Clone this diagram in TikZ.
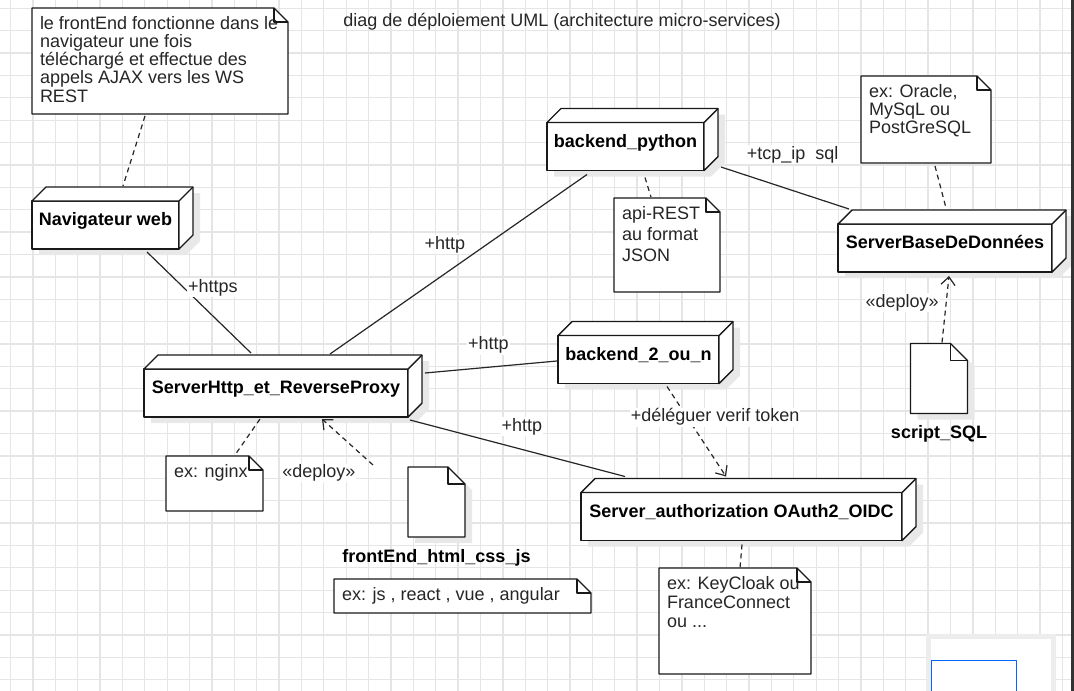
\documentclass[tikz,border=0pt]{standalone}
\usepackage{fontspec}
\setmainfont{Liberation Sans}
\usetikzlibrary{arrows.meta, positioning, calc, backgrounds}
\def\diagfont{\fontsize{18}{18.5}\selectfont}
\newcommand{\notetext}[3]{\parbox[t][#2][t]{#1}{\hrule height0pt width\hsize #3}}

\begin{document}
\begin{tikzpicture}[x=1pt, y=-1pt, font=\diagfont, text=black!85, line join=round]
    \tikzstyle{gridline}=[draw=black!10, line width=1.3pt]
    \tikzstyle{device}=[rectangle, draw=black!90, fill=white, line width=1.4pt, outer sep=0pt, inner xsep=0pt, inner ysep=9pt, text height=15.5pt, text depth=14.5pt, text=black, font=\diagfont\bfseries]
    \tikzstyle{devshadow}=[fill=black!9, shift={(7,6)}]
    \tikzstyle{note}=[rectangle, anchor=north west, inner sep=8pt, outer sep=0pt]
    \tikzstyle{artifact}=[rectangle, minimum width=57pt, minimum height=70pt, inner sep=0pt, outer sep=0pt]
    \tikzstyle{outline}=[draw=black!90, line width=1.4pt]
    \tikzstyle{link}=[draw=black!85, line width=1.2pt]
    \tikzstyle{dep}=[link, dash pattern=on 5pt off 4pt]
    \tikzstyle{deploy}=[dep, -{Straight Barb[length=8pt, width=14pt]}]
    \tikzstyle{elabel}=[fill=white, inner sep=1pt]

    \useasboundingbox (0,0) rectangle (1074,691);
    \begin{pgfonlayer}{background}
        \fill[white] (0,0) rectangle (1074,691);
        \foreach \i in {0,...,47} \draw[gridline] ({10.5+22.38*\i},0) -- ++(0,691);
        \foreach \j in {0,...,30} \draw[gridline] (0,{8.3+22.38*\j}) -- ++(1074,0);
    \end{pgfonlayer}

    \node (title) at (562,22) {diag de déploiement UML (architecture micro-services)};

    % noeuds 3D
    \foreach \n/\x/\y/\w/\t in {nav/105.5/225/147/Navigateur web,
            bpy/625.5/146.5/157/backend\_python,
            srv/276/393/264/ServerHttp\_et\_ReverseProxy,
            btwo/638.5/359.5/161/backend\_2\_ou\_n,
            oauth/741.5/516.5/321/Server\_authorization OAuth2\_OIDC,
            bdd/945/248/214/ServerBaseDeDonnées}{
        \fill[devshadow] ({\x-\w/2},{\y+24}) -- ++(0,-48) -- ++(14,-14) -- ++(\w,0) -- ++(0,48) -- ++(-14,14) -- cycle;
        \node[device, minimum width=\w pt] (\n) at (\x,\y) {\t};
        \filldraw[outline, fill=white] (\n.north west) -- ++(14,-14) -- ($(\n.north east)+(14,-14)$) -- ($(\n.south east)+(14,-14)$) -- (\n.south east) -- (\n.north east) -- cycle;
        \draw[outline] (\n.north east) -- ++(14,-14);
    }

    % artefacts
    \foreach \n/\x/\y/\t in {fe/436.5/502/frontEnd\_html\_css\_js, sql/939/378.5/script\_SQL}{
        \fill[devshadow] ({\x-28.5},{\y+35}) -- ++(0,-70) -- ++(40,0) -- ++(17,17) -- ++(0,53) -- cycle;
        \node[artifact, label={[font=\diagfont\bfseries, text=black, inner sep=2pt, yshift=-10pt]below:\t}] (\n) at (\x,\y) {};
        \filldraw[outline, fill=white] (\n.south west) -- (\n.north west) -- ($(\n.north east)+(-17,0)$) -- ($(\n.north east)+(0,17)$) -- (\n.south east) -- cycle;
        \draw[outline] ($(\n.north east)+(-17,0)$) -- ++(0,17) -- ++(17,0);
    }

    % notes
    \node[note] (nfront) at (32,8) {\notetext{240pt}{90pt}{\fontsize{18}{18.3}\selectfont
        \hbox{le frontEnd fonctionne dans le}\hbox{navigateur une fois}\hbox{téléchargé et effectue des}\hbox{appels AJAX vers les WS}\hbox{REST}}};
    \node[note] (napi) at (614,198) {\notetext{90pt}{78pt}{\fontsize{18}{21}\selectfont
        \hbox{api-REST}\hbox{au format}\hbox{JSON}}};
    \node[note] (ndb) at (861,76) {\notetext{114pt}{71pt}{\fontsize{18}{18}\selectfont
        \hbox{ex: Oracle,}\hbox{MySqL ou}\hbox{PostGreSQL}}};
    \node[note] (nnginx) at (166,456) {\notetext{81pt}{39pt}{\hbox{ex: nginx}}};
    \node[note] (njs) at (334,579) {\notetext{241pt}{18pt}{\hbox{ex: js , react , vue , angular}}};
    \node[note] (nkc) at (659,568) {\notetext{136pt}{90pt}{\fontsize{18}{19}\selectfont
        \hbox{ex: KeyCloak ou}\hbox{FranceConnect}\hbox{ou ...}}};
    \foreach \n in {nfront,napi,ndb,nnginx,njs,nkc}{
        \begin{pgfonlayer}{background}
            \fill[white] (\n.south west) -- (\n.north west) -- ($(\n.north east)+(-14,0)$) -- ($(\n.north east)+(0,14)$) -- (\n.south east) -- cycle;
        \end{pgfonlayer}
        \draw[outline] (\n.south west) -- (\n.north west) -- ($(\n.north east)+(-14,0)$) -- ($(\n.north east)+(0,14)$) -- (\n.south east) -- cycle;
        \draw[outline] ($(\n.north east)+(-14,0)$) -- ++(0,14) -- ++(14,0);
    }

    % liens
    \path ($(nav.south)+(41.5,3)$) edge[link] node[elabel, pos=.35, right=3pt] {+https} ($(srv.north)+(-25,-16)$);
    \path ($(srv.north)+(54,-15)$) edge[link] node[elabel, pos=.61, left=20pt] {+http} ($(bpy.south)+(-38.5,4)$);
    \path ($(srv.east)+(17,-20)$) edge[link] node[elabel, pos=.48, above=12pt] {+http} ($(btwo.west)+(-1,1.5)$);
    \path ($(srv.south east)+(2,3)$) edge[link] node[elabel, pos=.52, above=13pt] {+http} ($(oauth.north)+(-116.5,-16)$);
    \path ($(bpy.east)+(17,20.5)$) edge[link] node[elabel, pos=.56, above=26pt] {+tcp\_ip\ \ sql} ($(bdd.north west)+(11,-15)$);

    \path ($(nfront.south)+(-15,2)$) edge[dep] ($(nav.north)+(17.5,-15)$);
    \path ($(bpy.south)+(19.5,7)$) edge[dep] ($(napi.north)+(-16,-1)$);
    \path ($(ndb.south)+(9,3)$) edge[dep] ($(bdd.north)+(1,-16)$);
    \path ($(srv.south)+(-16,2)$) edge[dep] ($(nnginx.north)+(20.5,-1)$);
    \path ($(oauth.south)+(0.5,4)$) edge[dep] ($(nkc.north)+(5,0)$);

    \path ($(fe.north west)+(-35,-2)$) edge[deploy] node[elabel, pos=0, left=16pt, yshift=-8pt] {«deploy»} ($(srv.south)+(46,2)$);
    \path ($(sql.north)+(3,-1)$) edge[deploy] node[elabel, pos=.6, left=6pt] {«deploy»} ($(bdd.south)+(4,4)$);
    \path ($(btwo.south)+(28.5,3)$) edge[deploy] node[elabel, pos=.34, xshift=28pt] {+déléguer verif token} ($(oauth.north)+(-15.5,-16)$);

    % apercu et barre
    \fill[black!7] (926,634) rectangle (1056,691);
    \fill[white] (931,639) rectangle (1051,691);
    \draw[blue!60!cyan, line width=1pt] (931.5,660.5) rectangle (1016.5,693);
    \fill[black!80] (1070.5,0) rectangle (1074,691);
\end{tikzpicture}
\end{document}
